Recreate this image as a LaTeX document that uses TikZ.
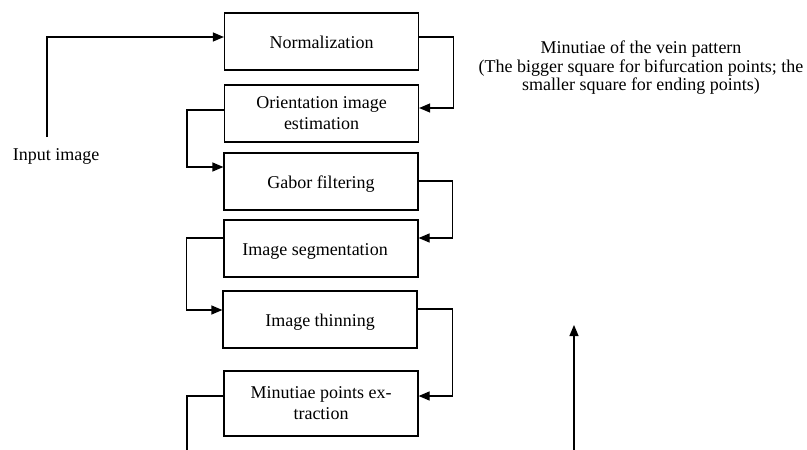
\documentclass[tikz,border=0pt]{standalone}
\usepackage{fontspec}
\setmainfont{Liberation Serif}
\usetikzlibrary{arrows.meta}
\begin{document}
\begin{tikzpicture}[x=1pt,y=-1pt,
  stage/.style={draw, line width=1.2pt, minimum width=194pt, minimum height=57pt,
    align=center, inner sep=2pt, font=\fontsize{18}{21}\selectfont},
  oneline/.style={text height=18.5pt, text depth=4pt},
  flow/.style={line width=1.2pt, -{Triangle[length=11pt,width=9pt]}},
  plain/.style={line width=1.2pt}]
\useasboundingbox (0,0) rectangle (807,450);

% processing stages
\node[stage, oneline] (norm)   at (321.5,41.5)  {Normalization};
\node[stage] (orient) at (321.5,113.5) {Orientation image\\estimation};
\node[stage, oneline] (gabor)  at (321,181.5)   {Gabor filtering};
\node[stage, oneline] (seg)    at (321,248.5)   {Image segmentation\hspace*{12pt}};
\node[stage, oneline] (thin)   at (320,319.5)   {Image thinning};
\node[stage, minimum height=65pt] (minu) at (321,403.5) {Minutiae points ex-\\traction};

% labels
\node[font=\fontsize{18}{21}\selectfont] (input) at (56,156) {Input image};
\node[align=center, font=\fontsize{18}{18.5}\selectfont] (result) at (641,68)
  {Minutiae of the vein pattern\\(The bigger square for bifurcation points; the\\smaller square for ending points)};

% free ends of the connectors
\coordinate (inbot) at (47,137);
\coordinate (outbot) at (187,450);
\coordinate (upbot) at (574,450);
\coordinate (uptop) at (574,325);

% connectors between the stages
\draw[flow] (inbot) |- ([yshift=4.5pt]norm.west);
\draw[flow] ([yshift=4.5pt]norm.east) -- ++(34,0) |- ([yshift=5.5pt]orient.east);
\draw[flow] ([yshift=3.5pt]orient.west) -- ++(-37,0) |- ([yshift=14.5pt]gabor.west);
\draw[flow] ([yshift=0.5pt]gabor.east) -- ++(34,0) |- ([yshift=10.5pt]seg.east);
\draw[flow] ([yshift=10.5pt]seg.west) -- ++(-37,0) |- ([yshift=9.5pt]thin.west);
\draw[flow] ([yshift=10.5pt]thin.east) -- ++(35,0) |- ([yshift=7.5pt]minu.east);
\draw[plain] ([yshift=7.5pt]minu.west) -| (outbot);
\draw[flow] (upbot) -- (uptop);
\end{tikzpicture}
\end{document}
